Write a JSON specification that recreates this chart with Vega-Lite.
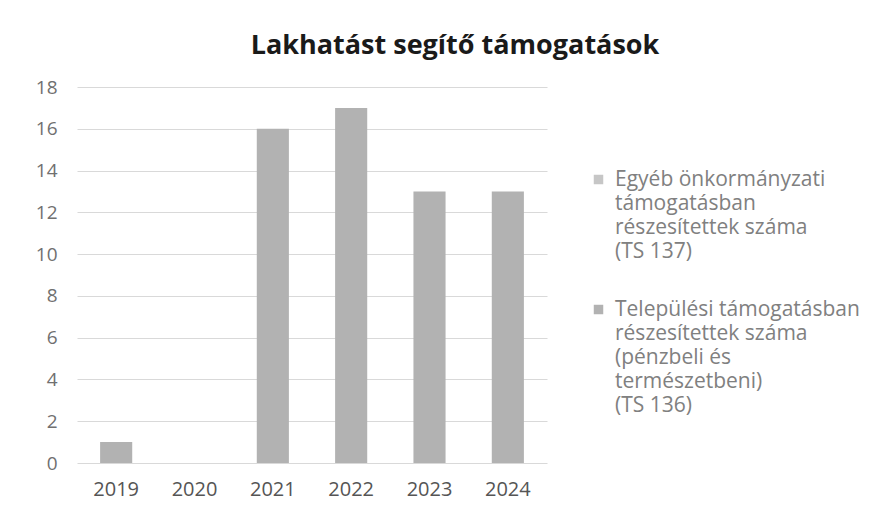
{
  "$schema": "https://vega.github.io/schema/vega-lite/v6.json",
  "autosize": "none",
  "width": 470,
  "height": 376,
  "padding": {"left": 77, "top": 87, "right": 340, "bottom": 44},
  "background": "white",
  "title": {
    "text": "Lakhatást segítő támogatások",
    "font": "Open Sans",
    "fontSize": 27,
    "fontWeight": "bold",
    "color": "#1a1a1a",
    "anchor": "middle",
    "dx": 143,
    "offset": 18
  },
  "data": {
    "values": [
      {"year": "2019", "series": "Egyéb önkormányzati\ntámogatásban\nrészesítettek száma\n(TS 137)", "value": 0},
      {"year": "2020", "series": "Egyéb önkormányzati\ntámogatásban\nrészesítettek száma\n(TS 137)", "value": 0},
      {"year": "2021", "series": "Egyéb önkormányzati\ntámogatásban\nrészesítettek száma\n(TS 137)", "value": 0},
      {"year": "2022", "series": "Egyéb önkormányzati\ntámogatásban\nrészesítettek száma\n(TS 137)", "value": 0},
      {"year": "2023", "series": "Egyéb önkormányzati\ntámogatásban\nrészesítettek száma\n(TS 137)", "value": 0},
      {"year": "2024", "series": "Egyéb önkormányzati\ntámogatásban\nrészesítettek száma\n(TS 137)", "value": 0},
      {"year": "2019", "series": "Települési támogatásban\nrészesítettek száma\n(pénzbeli és\ntermészetbeni)\n(TS 136)", "value": 1},
      {"year": "2020", "series": "Települési támogatásban\nrészesítettek száma\n(pénzbeli és\ntermészetbeni)\n(TS 136)", "value": 0},
      {"year": "2021", "series": "Települési támogatásban\nrészesítettek száma\n(pénzbeli és\ntermészetbeni)\n(TS 136)", "value": 16},
      {"year": "2022", "series": "Települési támogatásban\nrészesítettek száma\n(pénzbeli és\ntermészetbeni)\n(TS 136)", "value": 17},
      {"year": "2023", "series": "Települési támogatásban\nrészesítettek száma\n(pénzbeli és\ntermészetbeni)\n(TS 136)", "value": 13},
      {"year": "2024", "series": "Települési támogatásban\nrészesítettek száma\n(pénzbeli és\ntermészetbeni)\n(TS 136)", "value": 13}
    ]
  },
  "mark": {"type": "bar"},
  "encoding": {
    "x": {
      "field": "year",
      "type": "nominal",
      "scale": {"paddingInner": 0.59, "paddingOuter": 0.295},
      "axis": {
        "title": null,
        "labelAngle": 0,
        "domain": false,
        "ticks": false,
        "labelPadding": 16,
        "labelFont": "Open Sans",
        "labelFontSize": 20,
        "labelColor": "#555555"
      }
    },
    "y": {
      "field": "value",
      "type": "quantitative",
      "stack": "zero",
      "scale": {"domain": [0, 18], "nice": false},
      "axis": {
        "title": null,
        "values": [0, 2, 4, 6, 8, 10, 12, 14, 16, 18],
        "domain": false,
        "ticks": false,
        "labelPadding": 20,
        "labelFont": "Open Sans",
        "labelFontSize": 19,
        "labelColor": "#707070",
        "gridColor": "#d9d9d9",
        "gridWidth": 1
      }
    },
    "color": {
      "field": "series",
      "type": "nominal",
      "scale": {"range": ["#c6c6c6", "#b2b2b2"]},
      "legend": {
        "title": null,
        "orient": "none",
        "legendX": 511,
        "legendY": 82,
        "symbolType": "square",
        "symbolSize": 90,
        "symbolStrokeWidth": 0,
        "labelFont": "Open Sans",
        "labelFontSize": 21,
        "labelColor": "#808080",
        "labelLimit": 0,
        "labelOffset": 6,
        "labelExpr": "split(datum.label, '\\n')",
        "rowPadding": 36
      }
    }
  },
  "config": {
    "view": {"stroke": null},
    "style": {"guide-label": {"lineHeight": 24}}
  }
}
